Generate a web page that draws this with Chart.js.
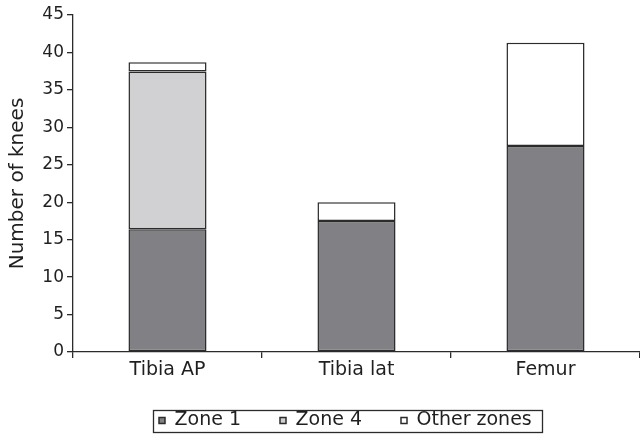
<!DOCTYPE html>
<html>
<head>
<meta charset="utf-8">
<script src="https://cdn.jsdelivr.net/npm/chart.js@4.4.1/dist/chart.umd.min.js"></script>
<style>
  html, body { margin: 0; padding: 0; background: #fff; }
  #wrap { width: 640px; height: 436px; }
</style>
</head>
<body>
<div id="wrap"><canvas id="c" width="640" height="436"></canvas></div>
<script>
// Knees per region, split by zone
const categories = ['Tibia AP', 'Tibia lat', 'Femur'];
const zone1 = [16.4, 17.5, 27.5];
const zone4 = [21.05, null, null];
const otherZones = [1.25, 2.5, 13.8];
const yMax = 45;
const yStep = 5;

const FONT = 'DejaVu Sans';
const INK = '#2b2b2b';
const TEXT = '#1f1f1f';

// Legend placement: left edge of the first entry, vertical centre of the row
const LEGEND_LEFT = 159;
const LEGEND_MID = 420.5;
const LEGEND_H = 44;

// Keeps the legend row compact in the layout, moves it into place and frames it
const legendFrame = {
  id: 'legendFrame',
  afterInit(chart) {
    const lg = chart.legend;
    if (!lg) return;
    const fit = Object.getPrototypeOf(lg).fit;
    lg.fit = function () {
      fit.call(this);
      this.height = LEGEND_H;
    };
  },
  beforeUpdate(chart) { chart.$legendMoved = false; },
  beforeDraw(chart) {
    const lg = chart.legend;
    if (!lg || chart.$legendMoved) return;
    const boxes = lg.legendHitBoxes;
    if (!boxes || !boxes.length) return;
    const dx = LEGEND_LEFT - boxes[0].left;
    const dy = (LEGEND_MID - boxes[0].height / 2) - boxes[0].top;
    lg.left += dx; lg.right += dx;
    lg.top += dy;
    lg.bottom = chart.height;
    lg.height = lg.bottom - lg.top;
    boxes.forEach(b => { b.left += dx; b.top += dy; });
    chart.$legendMoved = true;
  },
  afterDraw(chart) {
    const boxes = chart.legend && chart.legend.legendHitBoxes;
    if (!boxes || !boxes.length) return;
    const first = boxes[0], last = boxes[boxes.length - 1];
    const x0 = Math.round(first.left - 6) + 0.5;
    const x1 = Math.round(last.left + last.width + 10) + 0.5;
    const y0 = Math.round(LEGEND_MID - 11) + 0.5;
    const y1 = Math.round(LEGEND_MID + 11) + 0.5;
    const ctx = chart.ctx;
    ctx.save();
    ctx.strokeStyle = INK;
    ctx.lineWidth = 1.3;
    ctx.strokeRect(x0, y0, x1 - x0, y1 - y0);
    ctx.restore();
  }
};

const barStyle = {
  borderColor: INK,
  borderWidth: 1.5,
  borderSkipped: false,
  categoryPercentage: 1.0,
  barPercentage: 0.413
};

new Chart(document.getElementById('c'), {
  type: 'bar',
  data: {
    labels: categories,
    datasets: [
      Object.assign({ label: 'Zone 1', data: zone1, backgroundColor: '#818185' }, barStyle),
      Object.assign({ label: 'Zone 4', data: zone4, backgroundColor: '#d1d1d3' }, barStyle),
      Object.assign({ label: 'Other zones', data: otherZones, backgroundColor: '#ffffff' }, barStyle)
    ]
  },
  options: {
    responsive: false,
    animation: false,
    devicePixelRatio: 1,
    layout: { padding: { top: 15, right: 0, left: 0, bottom: 6 } },
    plugins: {
      tooltip: { enabled: false },
      legend: {
        position: 'bottom',
        align: 'center',
        labels: {
          color: TEXT,
          font: { family: FONT, size: 19 },
          boxWidth: 6,
          boxHeight: 6,
          padding: 39
        }
      }
    },
    scales: {
      x: {
        stacked: true,
        offset: true,
        afterFit(scale) { scale.height = 34; },
        grid: {
          offset: true,
          drawOnChartArea: false,
          color: INK,
          tickLength: 6,
          lineWidth: 1.3
        },
        border: { display: true, color: INK, width: 1.3 },
        ticks: {
          color: TEXT,
          font: { family: FONT, size: 19 },
          padding: 1
        }
      },
      y: {
        stacked: true,
        min: 0,
        max: yMax,
        afterFit(scale) { scale.width = 73; },
        title: {
          display: true,
          text: 'Number of knees',
          color: TEXT,
          font: { family: FONT, size: 20 },
          padding: { top: 6, bottom: 0 }
        },
        grid: {
          drawOnChartArea: false,
          color: INK,
          tickLength: 6,
          lineWidth: 1.3
        },
        border: { display: true, color: INK, width: 1.3 },
        ticks: {
          stepSize: yStep,
          color: TEXT,
          font: { family: FONT, size: 17 },
          padding: 3
        }
      }
    }
  },
  plugins: [legendFrame]
});
</script>
</body>
</html>
